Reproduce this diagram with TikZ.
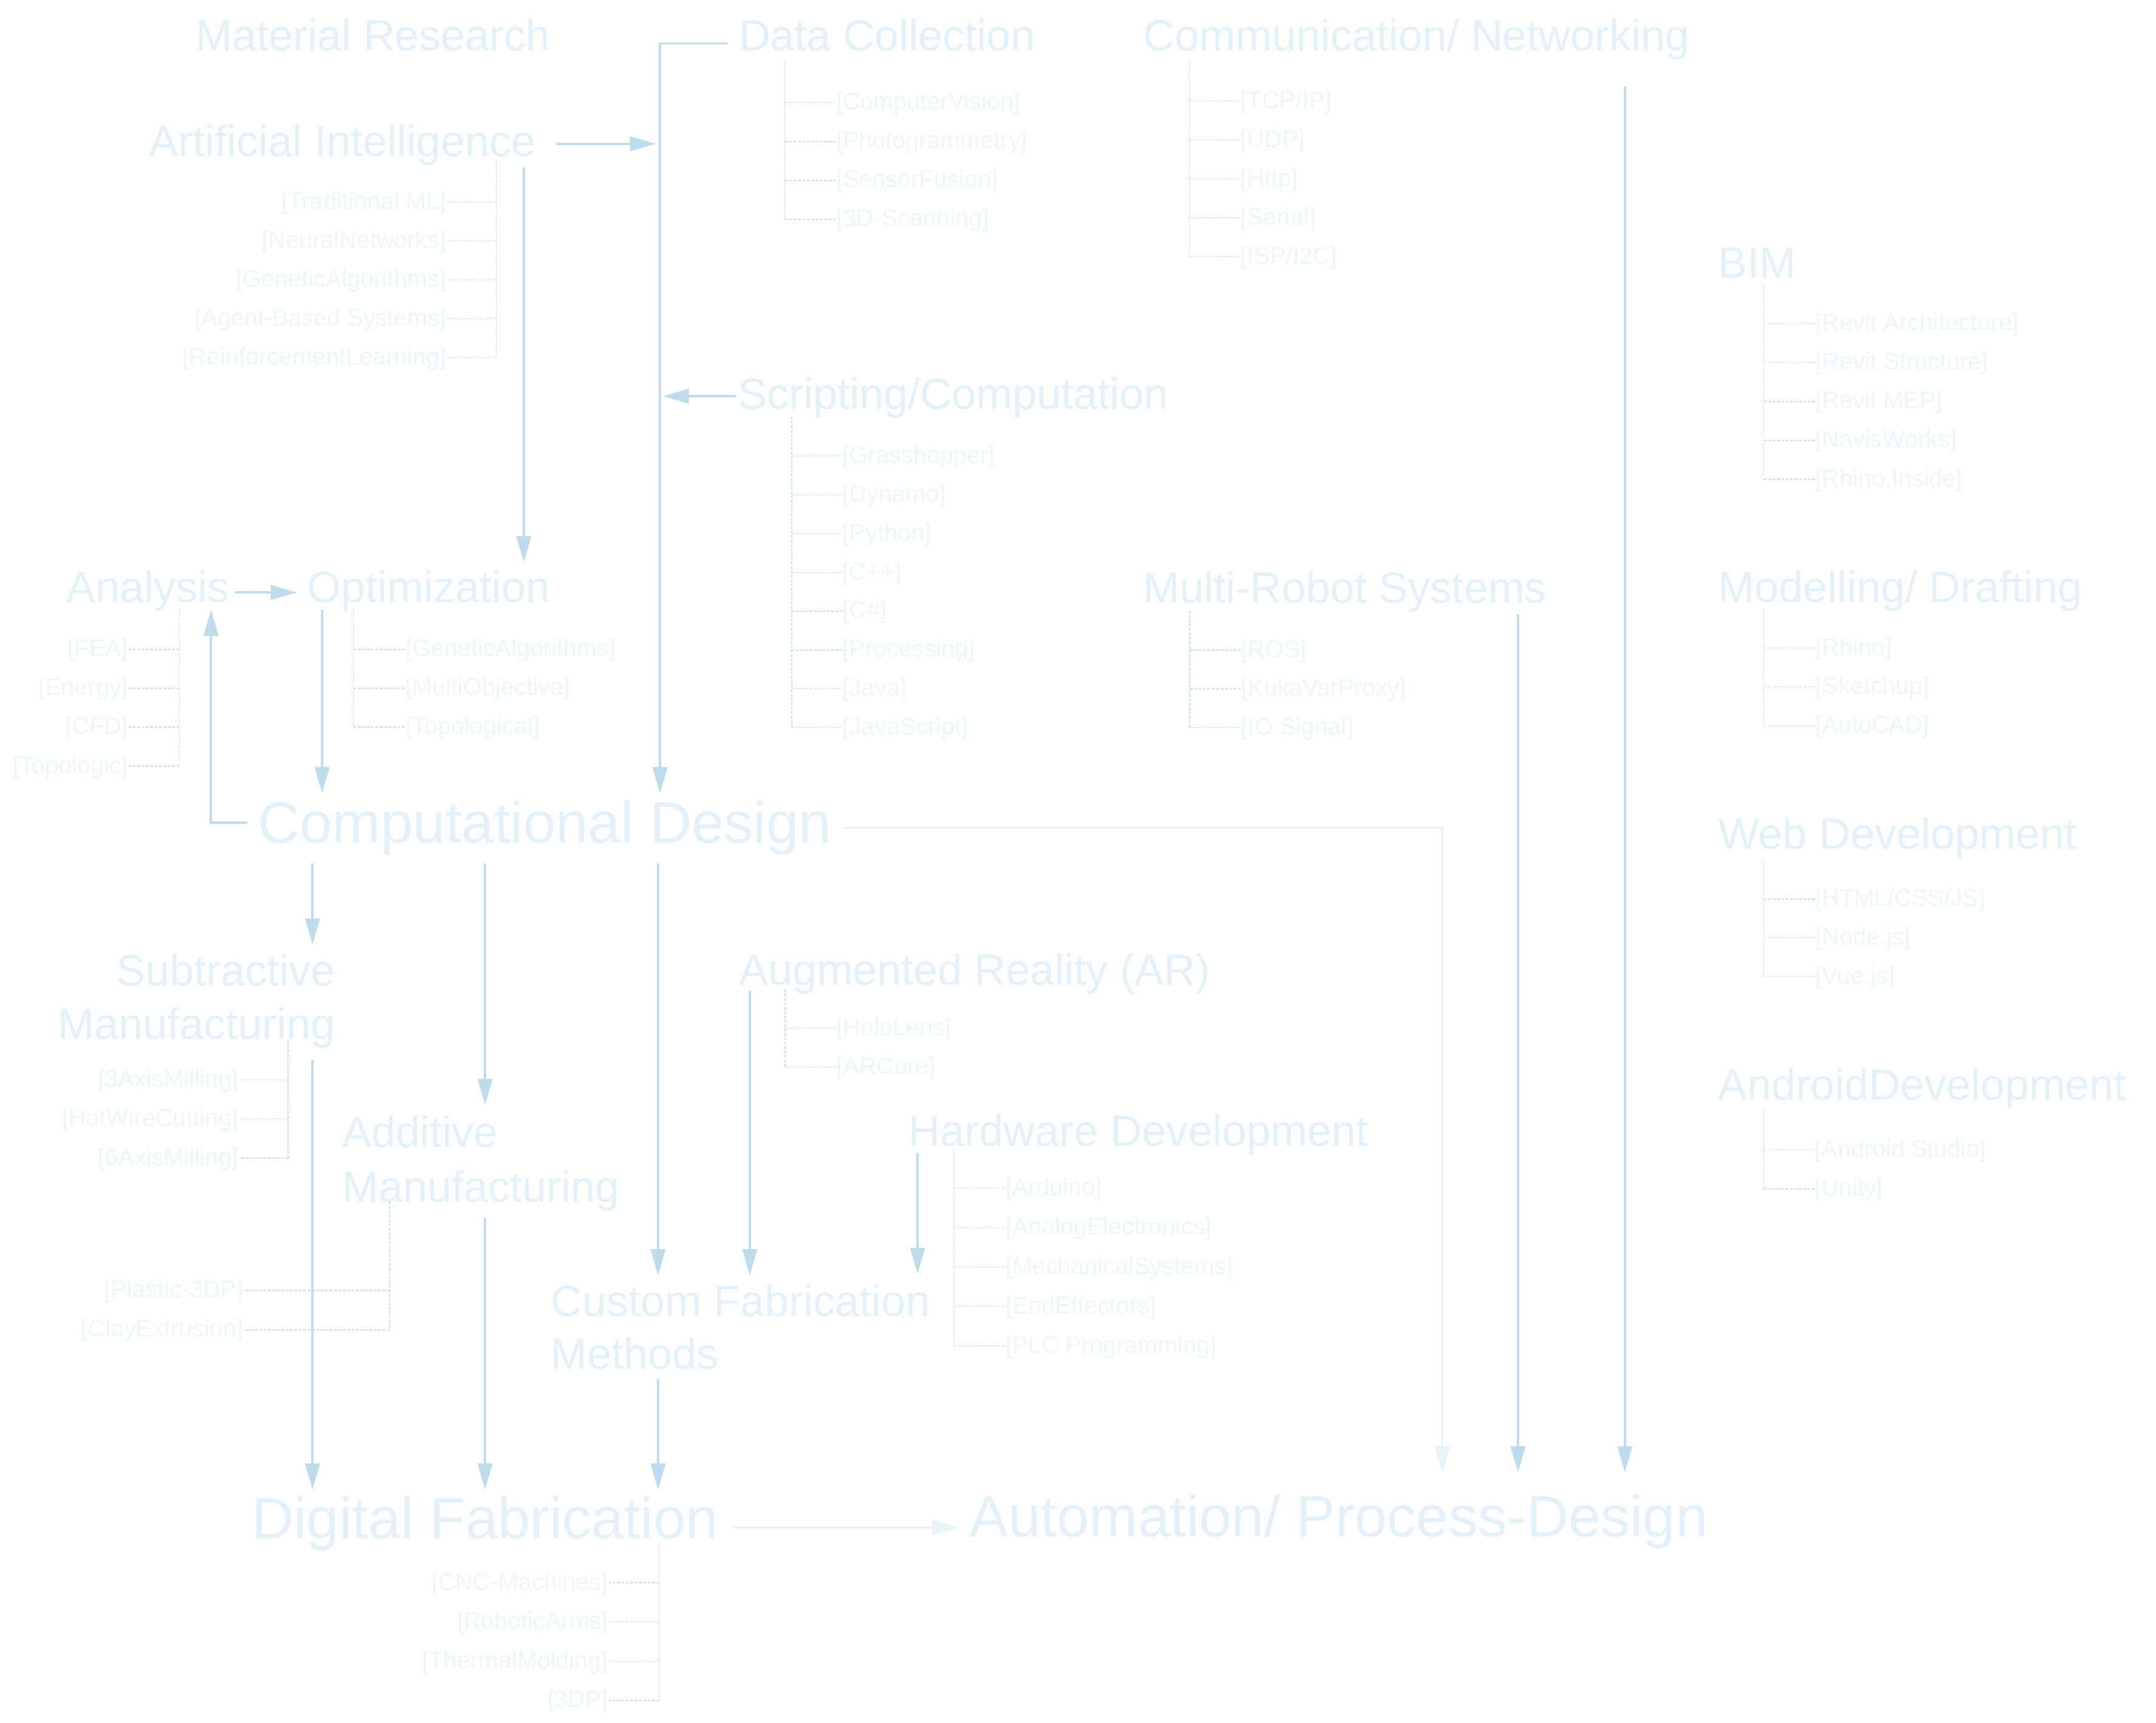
\documentclass[tikz,border=0pt]{standalone}
\usepackage{fontspec}
\setmainfont{Liberation Sans}
\usetikzlibrary{arrows.meta}
\definecolor{headc}{HTML}{E3F2FA}
\definecolor{itemc}{HTML}{EDF6FB}
\definecolor{arrc}{HTML}{BEDCEC}
\definecolor{treec}{HTML}{C4DEED}
\definecolor{faintc}{HTML}{E8F3F9}
\newcommand\branchL[7]{%
  \coordinate (#1-top) at (#2,#3);
  \foreach \x [count=\i] in {#7}{%
    \node[itemL] (#1-\i) at (#4,{#5+#6*(\i-1)}) {\x};
    \draw[tree] (#1-top |- #1-\i.mid east) -- (#1-\i.mid east);
    \xdef\lastidx{\i}
  }
  \draw[tree] (#1-top) -- (#1-top |- #1-\lastidx.mid east);
}
\newcommand\branchR[7]{%
  \coordinate (#1-top) at (#2,#3);
  \foreach \x [count=\i] in {#7}{%
    \node[itemR] (#1-\i) at (#4,{#5+#6*(\i-1)}) {\x};
    \draw[tree] (#1-top |- #1-\i.mid west) -- (#1-\i.mid west);
    \xdef\lastidx{\i}
  }
  \draw[tree] (#1-top) -- (#1-top |- #1-\lastidx.mid west);
}
\begin{document}
\begin{tikzpicture}[x=0.5pt,y=-0.5pt,
  head/.style={font=\fontsize{15.9pt}{19.5pt}\selectfont, text=headc, inner sep=0pt, anchor=base west},
  headE/.style={head, anchor=base east},
  big/.style={font=\fontsize{21.2pt}{26pt}\selectfont, text=headc, inner sep=0pt, anchor=base west},
  itemL/.style={font=\fontsize{8.75pt}{10pt}\selectfont, text=itemc, inner sep=0pt, anchor=mid east},
  itemR/.style={font=\fontsize{8.75pt}{10pt}\selectfont, text=itemc, inner sep=0pt, anchor=mid west},
  tree/.style={draw=treec, line width=0.3pt, dash pattern=on 1pt off 0.6pt},
  arr/.style={draw=arrc, line width=0.85pt, -{Triangle[length=9.5pt,width=5.3pt]}},
  faint/.style={draw=faintc, line width=0.7pt, -{Triangle[length=9.5pt,width=5.3pt,fill=faintc]}}
]
\useasboundingbox (0,0) rectangle (1568,1253);

% headings
\node[head] (mr) at (142,37) {Material Research};
\node[head] (ai) at (108,114) {Artificial Intelligence};
\node[head] (dc) at (537,37) {Data Collection};
\node[head] (cn) at (831,37) {Communication/ Networking};
\node[head] (sc) at (536.5,297.5) {Scripting/Computation};
\node[head] (bim) at (1249,202) {BIM};
\node[head] (an) at (48,438) {Analysis};
\node[head] (op) at (223,438) {Optimization};
\node[head] (mrs) at (831,438.5) {Multi-Robot Systems};
\node[head] (md) at (1249,438.3) {Modelling/ Drafting};
\node[big] (cd) at (187,613) {Computational Design};
\node[head] (web) at (1249,617.7) {Web Development};
\node[headE] (sub) at (244,717) {Subtractive};
\node[headE] (sub2) at (244,756) {Manufacturing};
\node[head] (ar) at (537,716.6) {Augmented Reality (AR)};
\node[head] (andr) at (1249,800) {AndroidDevelopment};
\node[head] (hw) at (660.5,833.8) {Hardware Development};
\node[head] (add) at (248.6,834.8) {Additive};
\node[head] (add2) at (248.6,874.3) {Manufacturing};
\node[head] (cf) at (400.4,957.6) {Custom Fabrication};
\node[head] (cf2) at (400.4,995.8) {Methods};
\node[big] (df) at (182.7,1119.3) {Digital Fabrication};
\node[big] (auto) at (704.5,1118) {Automation/ Process-Design};

% sub-item trees
\branchL{ait}{360.7}{118}{325}{147}{28.3}{{[Traditional ML]},{[NeuralNetworks]},{[GeneticAlgorithms]},{[Agent-Based Systems]},{[ReinforcementLearning]}}
\branchR{dct}{570.8}{45}{607.8}{74.6}{28.3}{{[ComputerVision]},{[Photogrammetry]},{[SensorFusion]},{[3D-Scanning]}}
\branchR{cnt}{865}{45}{902}{73.6}{28.25}{{[TCP/IP]},{[UDP]},{[Http]},{[Serial]},{[ISP/I2C]}}
\branchR{sct}{575.8}{303}{612.5}{331.8}{28.2}{{[Grasshopper]},{[Dynamo]},{[Python]},{[C++]},{[C\#]},{[Processing]},{[Java]},{[JavaScript]}}
\branchR{bimt}{1282.8}{207}{1320}{235.4}{28.33}{{[Revit Architecture]},{[Revit Structure]},{[Revit MEP]},{[NavisWorks]},{[Rhino.Inside]}}
\branchL{ant}{130.5}{443}{93.6}{472.4}{28.3}{{[FEA]},{[Energy]},{[CFD]},{[Topologic]}}
\branchR{opt}{257}{443}{294.8}{472.4}{28.3}{{[GeneticAlgorithms]},{[MultiObjective]},{[Topological]}}
\branchR{mrst}{865.3}{444}{902.3}{472.9}{28.2}{{[ROS]},{[KukaVarProxy]},{[IO Signal]}}
\branchR{mdt}{1282.8}{442.5}{1320}{471.3}{28.3}{{[Rhino]},{[Sketchup]},{[AutoCAD]}}
\branchR{webt}{1282.8}{624.8}{1320}{654}{28.2}{{[HTML/CSS/JS]},{[Node.js]},{[Vue.js]}}
\branchR{art}{571}{719.5}{608}{748}{28.3}{{[HoloLens]},{[ARCore]}}
\branchR{andt}{1282.7}{807}{1319.5}{836.3}{28.5}{{[Android Studio]},{[Unity]}}
\branchR{hwt}{693.7}{835.3}{731}{864.2}{28.7}{{[Arduino]},{[AnalogElectronics]},{[MechanicalSystems]},{[EndEffectors]},{[PLC Programming]}}
\branchL{subt}{209.5}{757}{174}{785.5}{28.45}{{[3AxisMilling]},{[HotWireCutting]},{[6AxisMilling]}}
\branchL{addt}{283.3}{874}{177.2}{938.6}{28.8}{{[Plastic-3DP]},{[ClayExtrusion]}}
\branchL{dft}{479.4}{1122}{442.7}{1151.3}{28.53}{{[CNC-Machines]},{[RoboticArms]},{[ThermalMolding]},{[3DP]}}

% connector end points
\coordinate (dc-out) at (529,31.6);
\coordinate (dc-bend) at (480,31.6);
\coordinate (cd-in1) at (480,577);
\coordinate (ai-out) at (404.7,104.6);
\coordinate (dc-in1) at (477,104.6);
\coordinate (sc-out) at (535,288.2);
\coordinate (dc-in2) at (482,288.2);
\coordinate (ai-down) at (381,121.5);
\coordinate (op-in1) at (381,409);
\coordinate (an-out) at (171,431);
\coordinate (op-in2) at (215.8,431);
\coordinate (cd-left) at (180,598.5);
\coordinate (an-in) at (153.5,443.6);
\coordinate (op-out) at (234.3,443.7);
\coordinate (cd-in2) at (234.3,577);
\coordinate (cd-o1) at (227.3,628);
\coordinate (sub-in) at (227.3,687);
\coordinate (cd-o2) at (352.8,628);
\coordinate (add-in) at (352.8,803.7);
\coordinate (cd-o3) at (478.6,628);
\coordinate (cf-in1) at (478.6,927.6);
\coordinate (sub-out) at (227.3,770.6);
\coordinate (df-in1) at (227.3,1083.5);
\coordinate (add-out) at (352.8,885.8);
\coordinate (df-in2) at (352.8,1083.5);
\coordinate (cf-out) at (478.6,1003);
\coordinate (df-in3) at (478.6,1083.5);
\coordinate (ar-out) at (545.3,720.8);
\coordinate (cf-in2) at (545.3,927.6);
\coordinate (hw-out) at (667.3,838.7);
\coordinate (cf-in3) at (667.3,926.7);
\coordinate (cd-right) at (613.2,602.3);
\coordinate (auto-in1) at (1049,1071);
\coordinate (mrs-out) at (1104,447);
\coordinate (auto-in2) at (1104,1071);
\coordinate (cn-out) at (1181.7,62.8);
\coordinate (auto-in3) at (1181.7,1071);
\coordinate (df-out) at (533.4,1111.2);
\coordinate (auto-in4) at (697,1111.2);

% connectors
\draw[arr] (dc-out) -- (dc-bend) -- (cd-in1);
\draw[arr] (ai-out) -- (dc-in1);
\draw[arr] (sc-out) -- (dc-in2);
\draw[arr] (ai-down) -- (op-in1);
\draw[arr] (an-out) -- (op-in2);
\draw[arr] (cd-left) -| (an-in);
\draw[arr] (op-out) -- (cd-in2);
\draw[arr] (cd-o1) -- (sub-in);
\draw[arr] (cd-o2) -- (add-in);
\draw[arr] (cd-o3) -- (cf-in1);
\draw[arr] (sub-out) -- (df-in1);
\draw[arr] (add-out) -- (df-in2);
\draw[arr] (cf-out) -- (df-in3);
\draw[arr] (ar-out) -- (cf-in2);
\draw[arr] (hw-out) -- (cf-in3);
\draw[faint] (cd-right) -| (auto-in1);
\draw[arr] (mrs-out) -- (auto-in2);
\draw[arr] (cn-out) -- (auto-in3);
\draw[faint] (df-out) -- (auto-in4);
\end{tikzpicture}
\end{document}
